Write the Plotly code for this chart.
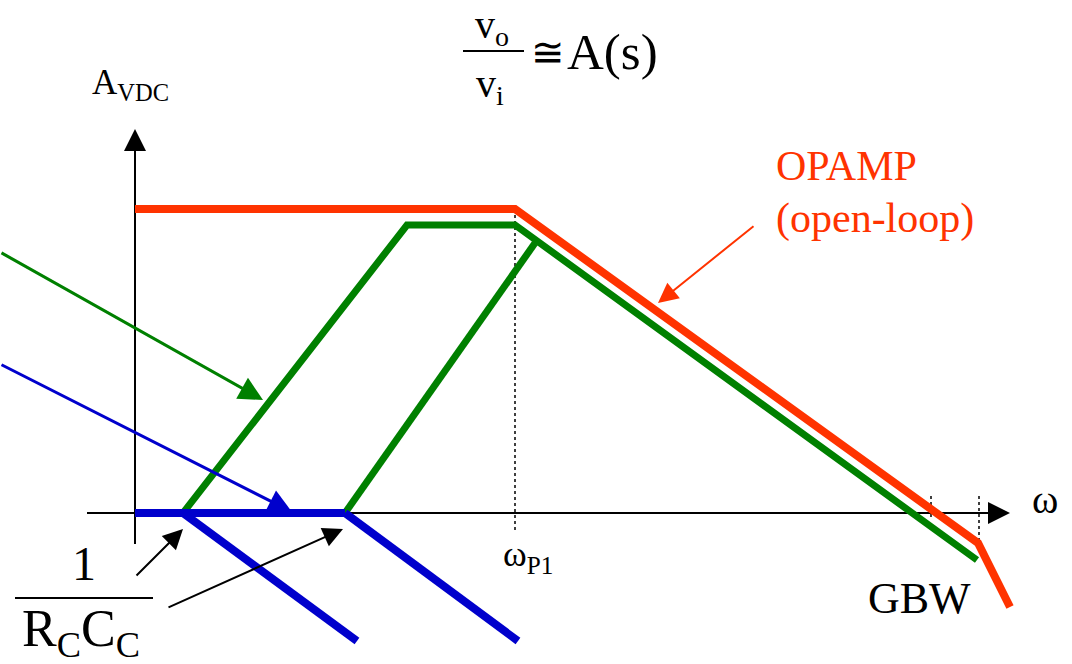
import plotly.graph_objects as go

# Bode sketch, in drawing units (x = log frequency, y = gain, y grows downward)
opamp_w = [135, 515, 978, 1010]
opamp_gain = [209, 209, 543, 607]

green_a_w = [183, 407, 515, 977]
green_a_gain = [513, 225, 225, 560]
green_b_w = [345, 535]
green_b_gain = [513, 243]

blue_flat_w = [135, 345]
blue_flat_gain = [513, 513]
blue_a_w = [183, 357]
blue_a_gain = [513, 641]
blue_b_w = [345, 518]
blue_b_gain = [513, 641]

axis_x_w = [87, 1000]
axis_x_gain = [513, 513]
axis_y_w = [135, 135]
axis_y_gain = [544, 140]

# dotted markers: wP1, the two GBW marks
dot_w = [515, 931, 979]
dot_top = [209, 496, 496]
dot_bottom = [530, 520, 543]

RED = 'rgb(255, 51, 0)'
GREEN = 'rgb(0, 128, 0)'
BLUE = 'rgb(0, 0, 204)'
SERIF = '"Liberation Serif", "Times New Roman", serif'

fig = go.Figure()

def seg(x, y, color, width, dash='solid'):
    fig.add_trace(go.Scatter(
        x=x, y=y, mode='lines',
        line=dict(color=color, width=width, dash=dash),
        hoverinfo='skip', showlegend=False
    ))

seg(axis_x_w, axis_x_gain, 'black', 2)
seg(axis_y_w, axis_y_gain, 'black', 2)
for w, t, b in zip(dot_w, dot_top, dot_bottom):
    seg([w, w], [t, b], 'black', 1.5, 'dot')

seg(opamp_w, opamp_gain, RED, 8)
seg(green_a_w, green_a_gain, GREEN, 7)
seg(green_b_w, green_b_gain, GREEN, 7)
seg(blue_flat_w, blue_flat_gain, BLUE, 8)
seg(blue_a_w, blue_a_gain, BLUE, 8)
seg(blue_b_w, blue_b_gain, BLUE, 8)

def arrow(x0, y0, x1, y1, color, width, size=1.0):
    fig.add_annotation(
        x=x1, y=y1, ax=x0, ay=y0, xref='x', yref='y', axref='x', ayref='y',
        text='', showarrow=True, arrowhead=2, arrowsize=size,
        arrowwidth=width, arrowcolor=color, standoff=0
    )

# axis arrow tips
arrow(990, 513, 1010, 513, 'black', 2, 2.2)
arrow(135, 150, 135, 129, 'black', 2, 2.2)

# pointer arrows
arrow(0, 252, 263, 400, GREEN, 3, 1.6)
arrow(0, 364, 292, 512, BLUE, 3, 1.6)
arrow(755, 225, 658, 303, RED, 2, 2.0)
arrow(135, 577, 183, 529, 'black', 2, 2.0)
arrow(167, 608, 343, 529, 'black', 2, 2.0)

def label(x, y, text, size, color='black', xanchor='left'):
    fig.add_annotation(
        x=x, y=y, xref='x', yref='y', text=text, showarrow=False,
        xanchor=xanchor, yanchor='middle',
        font=dict(family=SERIF, size=size, color=color)
    )

label(473, 27, 'v<sub>o</sub>', 40)
label(474, 86, 'v<sub>i</sub>', 40)
label(529, 52, '≅', 40)
label(565, 52, 'A(s)', 51)
label(90, 84, 'A<sub>VDC</sub>', 35)
label(774, 166, 'OPAMP', 42, RED)
label(774, 218, '(open-loop)', 42, RED)
label(1045, 499, 'ω', 40, xanchor='center')
label(501, 556, 'ω<sub>P1</sub>', 36)
label(919, 598, 'GBW', 44, xanchor='center')
label(84, 563, '1', 48, xanchor='center')
label(81, 632, 'R<sub>C</sub>C<sub>C</sub>', 52, xanchor='center')

# fraction bars
fig.add_shape(type='line', x0=463, x1=524, y0=51, y1=51, line=dict(color='black', width=2))
fig.add_shape(type='line', x0=15, x1=153, y0=598, y1=598, line=dict(color='black', width=2))

fig.update_layout(
    width=1072, height=664, autosize=False,
    margin=dict(l=0, r=0, t=0, b=0),
    paper_bgcolor='white', plot_bgcolor='white',
    xaxis=dict(range=[0, 1072], visible=False, fixedrange=True),
    yaxis=dict(range=[664, 0], visible=False, fixedrange=True),
    showlegend=False
)

# drop the page's default 8px body margin so the figure sits at the corner
fig.write_html("out.html", config={'displayModeBar': False},
               post_script="document.body.style.margin='0';")
